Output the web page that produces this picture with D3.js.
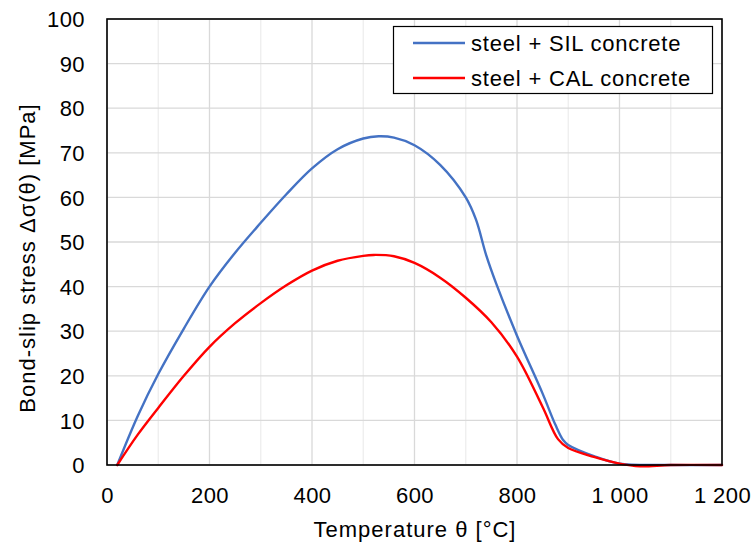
<!DOCTYPE html>
<html>
<head>
<meta charset="utf-8">
<script src="https://cdn.jsdelivr.net/npm/d3@7"></script>
<style>
  html, body { margin: 0; padding: 0; background: #fff; }
  svg { display: block; font-family: "Liberation Sans", Arial, sans-serif; }
</style>
</head>
<body>
<svg id="chart" width="753" height="542"></svg>
<script>
// Bond-slip stress vs temperature for two concrete types
const seriesNames = ["steel + SIL concrete", "steel + CAL concrete"];
const seriesColors = ["#4472C4", "#FF0000"];

const silTemp   = [20, 60, 100, 150, 200, 250, 300, 350, 400, 450, 500, 530, 560, 600, 650, 700, 720, 740, 760, 800, 850, 875, 890, 900, 950, 1000, 1100, 1200];
const silStress = [0, 11.0, 20.4, 30.6, 40.0, 47.6, 54.3, 60.7, 66.5, 70.8, 73.2, 73.7, 73.4, 71.7, 67.3, 60.0, 55.0, 47.0, 40.5, 29.0, 16.0, 9.0, 5.6, 4.5, 2.0, 0.3, 0, 0];

const calTemp   = [20, 60, 100, 150, 200, 250, 300, 350, 400, 450, 500, 520, 560, 600, 650, 700, 750, 800, 850, 880, 900, 950, 1000, 1040, 1100, 1200];
const calStress = [0, 6.8, 12.8, 20.0, 26.5, 31.8, 36.3, 40.3, 43.6, 45.8, 46.9, 47.1, 46.8, 45.3, 42.0, 37.5, 32.0, 24.3, 13.0, 5.8, 3.8, 1.8, 0.3, -0.3, 0, 0];

const xTicks = [0, 200, 400, 600, 800, 1000, 1200];
const xMinor = [100, 300, 500, 700, 900, 1100];
const yTicks = [0, 10, 20, 30, 40, 50, 60, 70, 80, 90, 100];

const xLabel = "Temperature θ [°C]";
const yLabel = "Bond-slip stress Δσ(θ) [MPa]";

const svg = d3.select("#chart");
const m = { left: 107, right: 722, top: 19, bottom: 465 };

const x = d3.scaleLinear().domain([0, 1200]).range([m.left, m.right]);
const y = d3.scaleLinear().domain([0, 100]).range([m.bottom, m.top]);

const fmt = v => v >= 1000 ? d3.format(",")(v).replace(",", " ") : String(v);

// gridlines
const grid = svg.append("g");
grid.selectAll(".vmin").data(xMinor).enter().append("line")
  .attr("x1", d => x(d)).attr("x2", d => x(d))
  .attr("y1", m.top).attr("y2", m.bottom)
  .attr("stroke", "#eeeeee").attr("stroke-width", 1.3);
grid.selectAll(".vmaj").data(xTicks).enter().append("line")
  .attr("x1", d => x(d)).attr("x2", d => x(d))
  .attr("y1", m.top).attr("y2", m.bottom)
  .attr("stroke", "#d9d9d9").attr("stroke-width", 1.3);
grid.selectAll(".h").data(yTicks).enter().append("line")
  .attr("x1", m.left).attr("x2", m.right)
  .attr("y1", d => y(d)).attr("y2", d => y(d))
  .attr("stroke", "#d9d9d9").attr("stroke-width", 1.3);

// axes (labels only, frame drawn separately)
const xAxis = d3.axisBottom(x).tickValues(xTicks).tickFormat(fmt).tickSize(0).tickPadding(0);
const gx = svg.append("g").attr("transform", `translate(0,${m.bottom})`).call(xAxis);
gx.select(".domain").remove();
gx.selectAll("text").attr("font-size", 22).attr("fill", "#000").attr("letter-spacing", 0.4)
  .attr("font-family", "Liberation Sans, Arial, sans-serif").attr("dy", 0).attr("y", 37.5);

const yAxis = d3.axisLeft(y).tickValues(yTicks).tickSize(0).tickPadding(0);
const gy = svg.append("g").attr("transform", `translate(${m.left},0)`).call(yAxis);
gy.select(".domain").remove();
gy.selectAll("text").attr("font-size", 22).attr("fill", "#000").attr("letter-spacing", 0.4)
  .attr("font-family", "Liberation Sans, Arial, sans-serif").attr("x", -22).attr("dy", "0.35em");

// series
const line = d3.line().x(d => x(d[0])).y(d => y(d[1])).curve(d3.curveCatmullRom.alpha(0.5));
const silData = silTemp.map((t, i) => [t, silStress[i]]);
const calData = calTemp.map((t, i) => [t, calStress[i]]);
[silData, calData].forEach((data, i) => {
  svg.append("path").datum(data).attr("d", line)
    .attr("fill", "none").attr("stroke", seriesColors[i])
    .attr("stroke-width", 2.4).attr("stroke-linejoin", "round").attr("stroke-linecap", "round");
});

// plot frame
svg.append("rect").attr("x", m.left).attr("y", m.top)
  .attr("width", m.right - m.left).attr("height", m.bottom - m.top)
  .attr("fill", "none").attr("stroke", "#000").attr("stroke-width", 1.6);

// axis titles
svg.append("text").attr("x", 415).attr("y", 537)
  .attr("text-anchor", "middle").attr("font-size", 22).attr("letter-spacing", 1).text(xLabel);
svg.append("text").attr("transform", `translate(35,258) rotate(-90)`)
  .attr("text-anchor", "middle").attr("font-size", 22).attr("letter-spacing", 1).text(yLabel);

// legend
const lg = svg.append("g");
lg.append("rect").attr("x", 393.5).attr("y", 26.5).attr("width", 319).attr("height", 67)
  .attr("fill", "#fff").attr("stroke", "#000").attr("stroke-width", 1.2);
seriesNames.forEach((name, i) => {
  const yy = 43 + i * 35;
  lg.append("line").attr("x1", 413).attr("x2", 465).attr("y1", yy).attr("y2", yy)
    .attr("stroke", seriesColors[i]).attr("stroke-width", 2.4);
  lg.append("text").attr("x", 471).attr("y", yy).attr("dy", "0.35em")
    .attr("font-size", 22).attr("letter-spacing", 0.8).text(name);
});
</script>
</body>
</html>
